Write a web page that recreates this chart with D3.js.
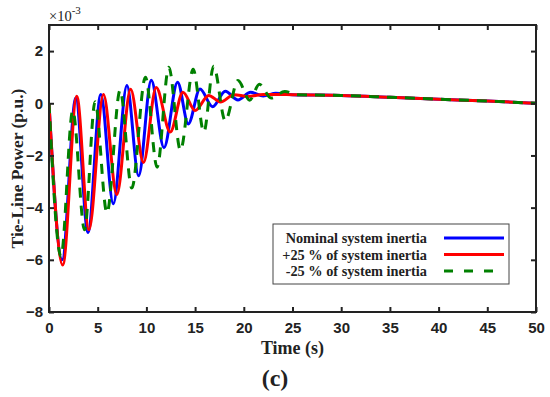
<!DOCTYPE html>
<html>
<head>
<meta charset="utf-8">
<script src="https://cdn.jsdelivr.net/npm/d3@7"></script>
<style>
  body { margin: 0; background: #fff; }
  svg { display: block; font-family: 'Liberation Serif', 'Times New Roman', serif; }
  .axis path { display: none; }
  .axis line { stroke: #222; stroke-width: 2; }
  .axis text { font-size: 15px; font-weight: bold; fill: #222; }
</style>
</head>
<body>
<div class="graph"></div>
<script>
// values (time in s, power in 1e-3 p.u.)
const tail = [[25, 0.33], [30, 0.30], [35, 0.23], [40, 0.155], [45, 0.085], [50, 0.0]];

const nominal = [
  [0, 0], [1.35, -6.0], [2.75, 0.2], [4.0, -4.95], [5.32, 0.34], [6.6, -3.85], [8.0, 0.68],
  [9.2, -2.78], [10.5, 0.88], [11.8, -1.7], [13.2, 0.81], [14.3, -0.79], [15.5, 0.55],
  [16.8, -0.13], [18.1, 0.46], [19.4, 0.13], [20.7, 0.42], [22.0, 0.28], [23.3, 0.38]
].concat(tail);

const plus25 = [
  [0, 0], [1.41, -6.2], [2.85, 0.27], [4.1, -4.85], [5.59, 0.34], [6.96, -3.5], [8.38, 0.54],
  [9.7, -2.27], [11.0, 0.6], [12.45, -1.1], [13.75, 0.42], [15.0, -0.28], [16.4, 0.3],
  [17.6, 0.05], [19.0, 0.33], [20.4, 0.26], [22.0, 0.34]
].concat(tail);

const minus25 = [
  [0, 0], [1.23, -5.87], [2.44, -0.28], [3.65, -4.85], [4.73, 0.06], [5.95, -4.2], [7.3, 0.5],
  [8.5, -3.25], [9.9, 1.0], [11.1, -2.45], [12.3, 1.38], [13.5, -1.8], [14.8, 1.3],
  [15.9, -1.1], [16.9, 1.42], [18.1, -0.67], [19.4, 0.87], [20.6, 0.12], [21.6, 0.73],
  [22.8, 0.2], [24.2, 0.45]
].concat([[25.5, 0.33]], tail.slice(1));

const series = [
  { name: 'Nominal system inertia', data: nominal, color: '#0000ff', dash: null },
  { name: '+25 % of system inertia', data: plus25, color: '#ff0000', dash: null },
  { name: '-25 % of system inertia', data: minus25, color: '#008000', dash: '10,8' }
];

const xTicks = [0, 5, 10, 15, 20, 25, 30, 35, 40, 45, 50];
const yTicks = [-8, -6, -4, -2, 0, 2];

const width = 550;
const height = 397;
const margin = { top: 25, right: 14, bottom: 85, left: 49 };

const svg = d3.select('.graph')
  .append('svg')
    .attr('width', width)
    .attr('height', height);

const x = d3.scaleLinear()
  .domain([0, 50])
  .range([margin.left, width - margin.right]);

const y = d3.scaleLinear()
  .domain([-8, 3])
  .range([height - margin.bottom, margin.top]);

const plot = svg.append('g');

plot.append('clipPath')
  .attr('id', 'clip')
  .append('rect')
    .attr('x', x(0))
    .attr('y', y(3))
    .attr('width', x(50) - x(0))
    .attr('height', y(-8) - y(3));

const line = d3.line()
  .x(d => x(d[0]))
  .y(d => y(d[1]))
  .curve(d3.curveMonotoneX);

plot.selectAll('.series')
  .data(series)
  .join('path')
    .attr('class', 'series')
    .attr('clip-path', 'url(#clip)')
    .attr('d', d => line(d.data))
    .attr('fill', 'none')
    .attr('stroke', d => d.color)
    .attr('stroke-width', 3)
    .attr('stroke-dasharray', d => d.dash);

// axes, ticks pointing inwards on all four sides
svg.append('g')
  .attr('class', 'axis')
  .attr('transform', `translate(0,${y(-8)})`)
  .call(d3.axisBottom(x).tickValues(xTicks).tickSizeInner(-5).tickSizeOuter(0).tickPadding(10));

svg.append('g')
  .attr('class', 'axis')
  .attr('transform', `translate(0,${y(3)})`)
  .call(d3.axisTop(x).tickValues(xTicks).tickSizeInner(-5).tickSizeOuter(0).tickFormat(''));

svg.append('g')
  .attr('class', 'axis')
  .attr('transform', `translate(${x(0)},0)`)
  .call(d3.axisLeft(y).tickValues(yTicks).tickSizeInner(-5).tickSizeOuter(0).tickPadding(6));

svg.append('g')
  .attr('class', 'axis')
  .attr('transform', `translate(${x(50)},0)`)
  .call(d3.axisRight(y).tickValues(yTicks).tickSizeInner(-5).tickSizeOuter(0).tickFormat(''));

svg.append('rect')
  .attr('x', x(0))
  .attr('y', y(3))
  .attr('width', x(50) - x(0))
  .attr('height', y(-8) - y(3))
  .attr('fill', 'none')
  .attr('stroke', '#222')
  .attr('stroke-width', 2);

// exponent
const expo = svg.append('text')
  .attr('x', x(0))
  .attr('y', 21)
  .style('font-size', '14.5px')
  .attr('fill', '#222');
expo.append('tspan').text('\u00d710');
expo.append('tspan').attr('dy', -7).style('font-size', '11px').text('-3');

// axis titles
svg.append('text')
  .attr('x', (x(0) + x(50)) / 2)
  .attr('y', 354)
  .attr('text-anchor', 'middle')
  .style('font-size', '18px')
  .style('font-weight', 'bold')
  .attr('fill', '#222')
  .text('Time (s)');

svg.append('text')
  .attr('transform', `translate(23,${(y(3) + y(-8)) / 2}) rotate(-90)`)
  .attr('text-anchor', 'middle')
  .style('font-size', '17.5px')
  .style('font-weight', 'bold')
  .attr('fill', '#222')
  .text('Tie-Line Power (p.u.)');

svg.append('text')
  .attr('x', 275)
  .attr('y', 386)
  .attr('text-anchor', 'middle')
  .style('font-size', '24px')
  .style('font-weight', 'bold')
  .attr('fill', '#222')
  .text('(c)');

// legend
const legend = svg.append('g');

legend.append('rect')
  .attr('x', 273)
  .attr('y', 224)
  .attr('width', 236)
  .attr('height', 60)
  .attr('fill', '#fff')
  .attr('stroke', '#444')
  .attr('stroke-width', 1);

const row = legend.selectAll('.row')
  .data(series)
  .join('g')
    .attr('class', 'row')
    .attr('transform', (d, i) => `translate(0,${238 + i * 16.5})`);

row.append('text')
  .attr('x', 427)
  .attr('dy', '0.35em')
  .attr('text-anchor', 'end')
  .style('font-size', '14.3px')
  .style('font-weight', 'bold')
  .attr('fill', '#222')
  .text(d => d.name);

row.append('line')
  .attr('x1', 444)
  .attr('x2', 504)
  .attr('stroke', d => d.color)
  .attr('stroke-width', 3)
  .attr('stroke-dasharray', d => d.dash ? '9,11' : null);
</script>
</body>
</html>
